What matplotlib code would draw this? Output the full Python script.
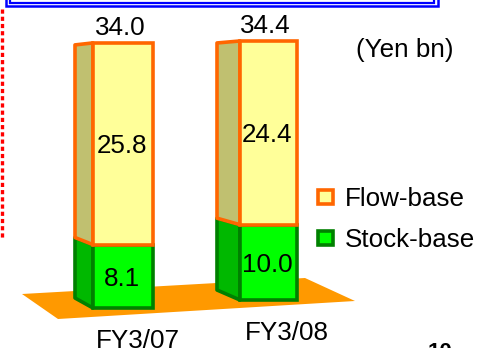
import matplotlib
matplotlib.use('Agg')
import matplotlib.pyplot as plt
from matplotlib.patches import Polygon, Rectangle
from matplotlib.transforms import Affine2D

# data
years = ['FY3/07', 'FY3/08']
stock_base = [8.1, 10.0]
flow_base = [25.8, 24.4]
totals = [34.0, 34.4]
series_names = ['Flow-base', 'Stock-base']
unit_label = '(Yen bn)'
page_no = '10'

# layout (pixels)
W, H = 479, 348
Y0 = 308.0          # pixel row of y=0 for the front bar
PX = 7.82           # pixels per Yen bn for the front bar
front_left = [93, 240]
front_w = [60, 57]
side_w = [18, 23]
base_px = [308, 300]
px_unit = [7.82, 7.53]
label_x = [138, 287]
label_top = [329, 321]

flow_front, flow_side, flow_edge = '#FFFF99', '#C0C070', '#FF6600'
stock_front, stock_side, stock_edge = '#00FF00', '#00B800', '#008000'
LW = 2.6

plt.rcParams['font.family'] = ['Liberation Sans', 'DejaVu Sans']
plt.rcParams['lines.scale_dashes'] = False

fig = plt.figure(figsize=(W / 100, H / 100), dpi=100)
pix = Affine2D().scale(1 / W, -1 / H).translate(0, 1) + fig.transFigure

ax = fig.add_axes([0, 0, 1, 1])
ax.set_xlim(0, W)
ax.set_ylim(-(H - Y0) / PX, Y0 / PX)
ax.axis('off')

# floor
floor = Polygon([(22, 294), (305, 278), (355, 301), (58, 319)], closed=True,
                fc='#FF9900', ec='none', transform=pix, zorder=1)
ax.add_patch(floor)

for i in range(len(years)):
    off = (Y0 - base_px[i]) / PX
    k = px_unit[i] / PX
    left, w, sw = front_left[i], front_w[i], side_w[i]
    s = stock_base[i] * k
    f = flow_base[i] * k
    tot = s + f

    def lift(h):
        return (10 - 12 * h / tot) / PX

    segs = [(0, s, stock_side, stock_edge, 2), (s, s + f, flow_side, flow_edge, 4)]
    for h0, h1, fc, ec, z in segs:
        poly = [(left, off + h0), (left, off + h1),
                (left - sw, off + h1 + lift(h1)), (left - sw, off + h0 + lift(h0))]
        ax.add_patch(Polygon(poly, closed=True, fc=fc, ec=ec, lw=LW,
                             joinstyle='round', zorder=z))

    ax.bar(left, s, width=w, bottom=off, align='edge', color=stock_front,
           edgecolor=stock_edge, lw=LW, zorder=3)
    ax.bar(left, f, width=w, bottom=off + s, align='edge', color=flow_front,
           edgecolor=flow_edge, lw=LW, zorder=5)

    cx = left + w / 2 - 1
    ax.text(cx, off + s / 2, f'{stock_base[i]:.1f}', ha='center',
            va='center_baseline', fontsize=18.7, zorder=6)
    ax.text(cx, off + s + f / 2, f'{flow_base[i]:.1f}', ha='center',
            va='center_baseline', fontsize=18.7, zorder=6)
    ax.annotate(f'{totals[i]:.1f}', (cx - 2, off + tot), xytext=(0, 12.5),
                textcoords='offset points', ha='center', va='center_baseline',
                fontsize=18.7, zorder=6)

    ax.text(label_x[i], label_top[i], years[i], transform=pix, ha='center',
            va='top', fontsize=18.7)

# legend
for j, (name, fc, ec) in enumerate(zip(series_names, [flow_front, stock_front],
                                        [flow_edge, stock_edge])):
    y = 189.5 + j * 41
    ax.add_patch(Rectangle((318.5, y), 15, 14, fc=fc, ec=ec, lw=LW,
                           transform=pix, zorder=6))
    ax.text(345, y + 7, name, transform=pix, ha='left', va='center_baseline',
            fontsize=18.7)

ax.text(405, 48, unit_label, transform=pix, ha='center', va='center_baseline',
        fontsize=18.7)

# frame pieces
ax.plot([6, 6, 438, 438], [-5, 6, 6, -5], color='#0000FF', lw=1.8,
        transform=pix, solid_joinstyle='miter')
ax.plot([10, 10, 434, 434], [-5, 2.5, 2.5, -5], color='#0000FF', lw=1.6,
        transform=pix, solid_joinstyle='miter')
ax.plot([2, 2], [9, 240], color='#FF0000', lw=2.4, dashes=(3, 2.2),
        transform=pix)

ax.text(440, 342, page_no, transform=pix, ha='center', va='top',
        fontsize=16, fontweight='bold')

fig.savefig('out.png', dpi=100)
